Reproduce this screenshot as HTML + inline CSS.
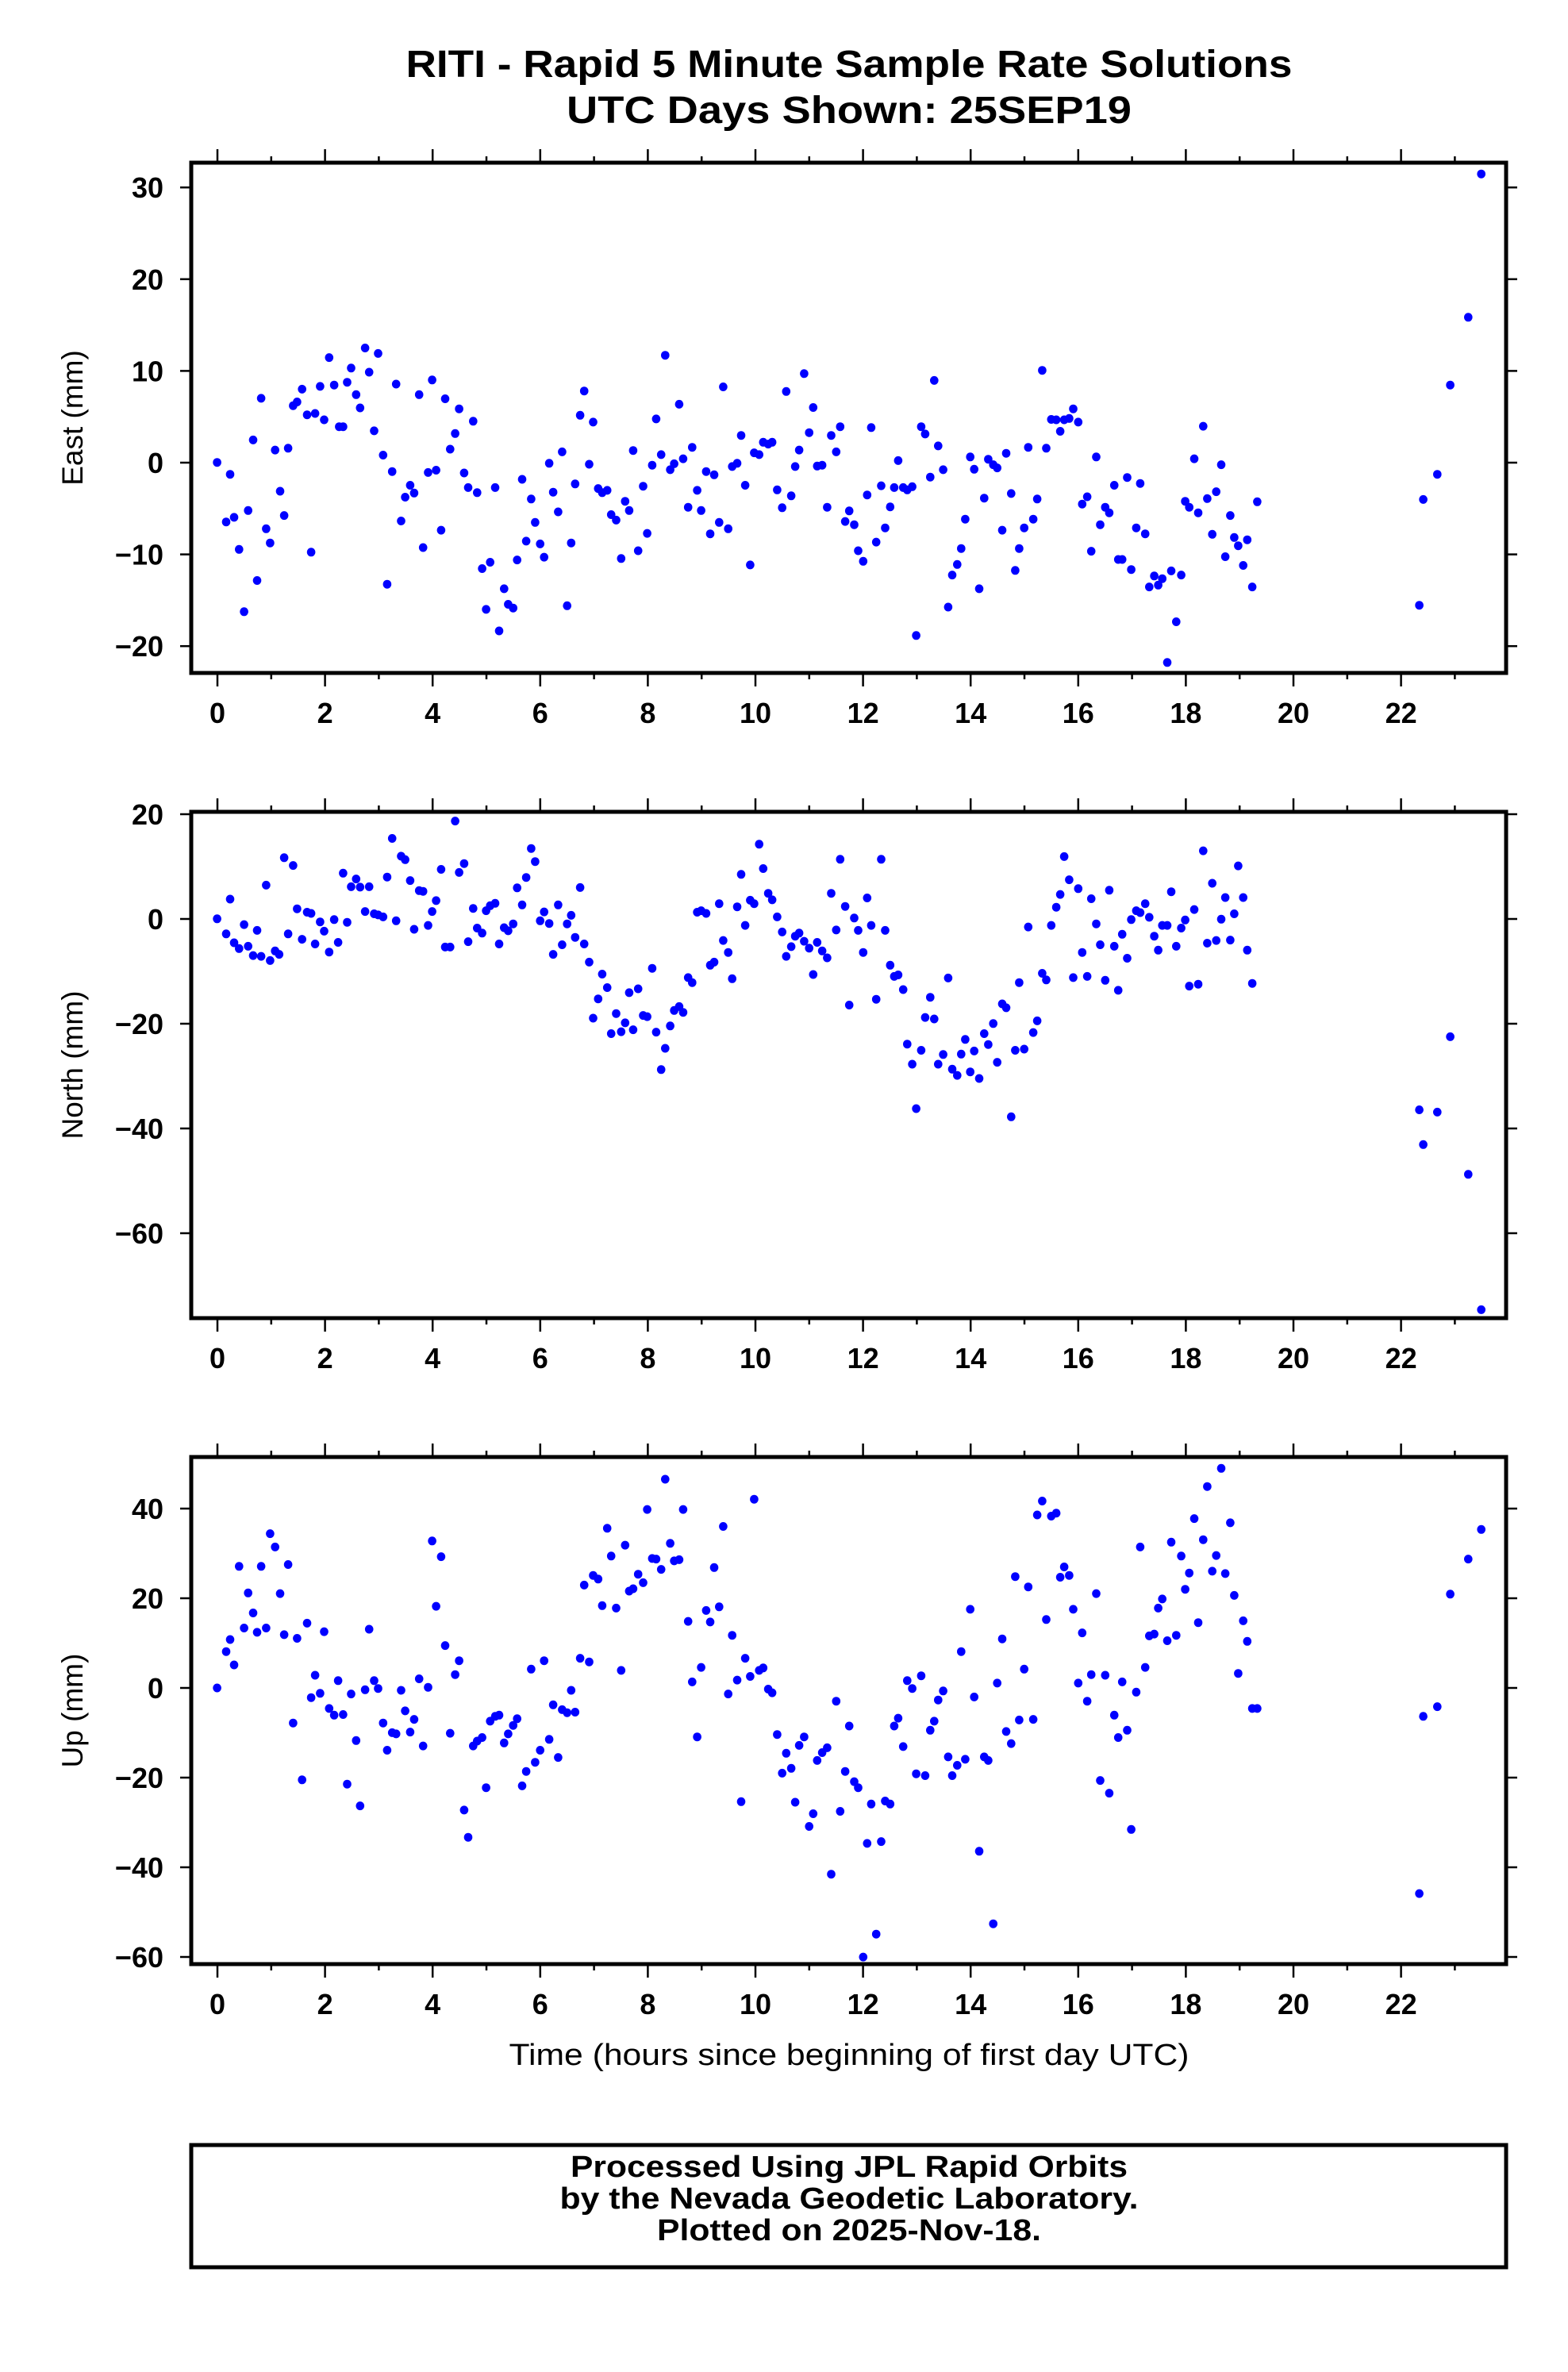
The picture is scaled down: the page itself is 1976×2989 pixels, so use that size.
<!DOCTYPE html>
<html><head><meta charset="utf-8"><style>html,body{margin:0;padding:0;background:#fff}svg{display:block}</style></head>
<body>
<svg id="s" xmlns="http://www.w3.org/2000/svg" width="1976" height="2989" viewBox="0 0 1976 2989" font-family="Liberation Sans, sans-serif">
<rect width="1976" height="2989" fill="#fff"/>
<text x="1070" y="97" font-size="48" font-weight="bold" text-anchor="middle" textLength="1117" lengthAdjust="spacingAndGlyphs">RITI - Rapid 5 Minute Sample Rate Solutions</text>
<text x="1070" y="155" font-size="48" font-weight="bold" text-anchor="middle" textLength="712" lengthAdjust="spacingAndGlyphs">UTC Days Shown:  25SEP19</text>
<text x="1070" y="2602" font-size="38" text-anchor="middle" textLength="857" lengthAdjust="spacingAndGlyphs">Time (hours since beginning of first day UTC)</text>
<rect x="241" y="2703" width="1657" height="154" fill="none" stroke="#000" stroke-width="5"/>
<text x="1070" y="2743" font-size="38" font-weight="bold" text-anchor="middle" textLength="702" lengthAdjust="spacingAndGlyphs">Processed Using JPL Rapid Orbits</text>
<text x="1070" y="2783" font-size="38" font-weight="bold" text-anchor="middle" textLength="729" lengthAdjust="spacingAndGlyphs">by the Nevada Geodetic Laboratory.</text>
<text x="1070" y="2823" font-size="38" font-weight="bold" text-anchor="middle" textLength="484" lengthAdjust="spacingAndGlyphs">Plotted on 2025-Nov-18.</text>
<g id="g"></g>
</svg>
<script>
var g=document.getElementById("g"),h="";
function X(hr){return 274+67.8*hr;}
function panel(top,bot,vals,yf,label){
  var L=241,R=1898;
  for(var i=0;i<=23;i++){var x=X(i),len=(i%2==0)?17:8;
    h+='<line x1="'+x+'" y1="'+top+'" x2="'+x+'" y2="'+(top-len)+'" stroke="#000" stroke-width="2.5"/>';
    h+='<line x1="'+x+'" y1="'+bot+'" x2="'+x+'" y2="'+(bot+len)+'" stroke="#000" stroke-width="2.5"/>';
    if(i%2==0&&i<=22)h+='<text x="'+x+'" y="'+(bot+63)+'" font-size="36" font-weight="bold" text-anchor="middle">'+i+'</text>';}
  vals.forEach(function(v){var y=yf(v);
    h+='<line x1="'+(L-14)+'" y1="'+y+'" x2="'+L+'" y2="'+y+'" stroke="#000" stroke-width="2.5"/>';
    h+='<line x1="'+R+'" y1="'+y+'" x2="'+(R+14)+'" y2="'+y+'" stroke="#000" stroke-width="2.5"/>';
    h+='<text x="206" y="'+(y+13)+'" font-size="36" font-weight="bold" text-anchor="end">'+(v<0?'\u2212'+(-v):v)+'</text>';});
  var cy=(top+bot)/2;
  h+='<text transform="translate(104,'+cy+') rotate(-90)" font-size="37" text-anchor="middle">'+label+'</text>';
  h+='<rect x="'+L+'" y="'+top+'" width="'+(R-L)+'" height="'+(bot-top)+'" fill="none" stroke="#000" stroke-width="5"/>';
}
function dots(arr,oy,sy){for(var i=0;i<arr.length;i+=2){var x=274+(arr[i]*1.2667-274)*0.995;h+='<ellipse cx="'+x.toFixed(1)+'" cy="'+(oy+arr[i+1]*sy).toFixed(1)+'" rx="5.3" ry="5.5" fill="#0000ff"/>';}}
panel(205,848,[-20,-10,0,10,20,30],function(v){return 583-v*11.56;},"East (mm)");
panel(1023,1661,[-60,-40,-20,0,20],function(v){return 1158-v*6.6;},"North (mm)");
panel(1836,2475,[-60,-40,-20,0,20,40],function(v){return 2127-v*5.65;},"Up (mm)");
var E=[216,1010,225,1140,229,1036,233,1130,238,1200,243,1336,247,1115,252,961,256,1268,260,870,265,1155,269,1186,274,983,279,1073,283,1126,287,979,292,886,296,878,301,850,306,906,310,1206,314,903,319,844,323,917,328,781,333,841,338,932,342,932,346,835,350,804,355,862,359,891,364,760,368,813,373,941,377,772,382,994,386,1276,391,1030,395,839,400,1138,404,1086,409,1060,413,1077,418,862,422,1196,427,1032,431,830,435,1027,440,1158,444,871,449,981,454,947,458,893,463,1033,467,1065,472,920,476,1076,481,1242,485,1331,489,1228,494,1065,498,1378,503,1286,507,1320,512,1328,516,1223,521,1047,525,1182,530,1090,534,1141,539,1188,543,1217,548,1012,552,1075,557,1118,561,987,566,1323,570,1186,574,1057,579,907,583,854,588,1014,592,922,597,1067,601,1076,606,1071,610,1124,615,1136,620,1220,624,1095,628,1115,632,984,637,1203,642,1062,646,1165,651,1016,655,915,660,993,664,776,669,1026,673,1013,678,883,682,1002,687,1108,691,977,696,1071,700,1115,705,1030,709,1166,713,1037,718,1141,722,845,727,1155,731,1019,736,1012,740,951,744,1060,749,1234,753,989,758,993,762,966,767,970,771,966,776,1070,781,1109,785,855,790,1083,794,1019,798,983,803,816,808,945,812,890,816,1018,821,1016,826,1108,830,951,835,987,839,932,844,1139,848,1116,853,1146,857,1203,862,1226,866,1081,870,934,875,1184,880,1061,884,1153,889,1107,893,1065,897,1006,902,1065,906,1070,911,1063,915,1388,920,932,924,948,929,1042,933,831,937,974,942,1026,947,1326,951,1256,956,1233,960,1198,964,1134,969,998,973,1025,978,1286,983,1088,987,1003,992,1015,996,1022,1001,1158,1005,990,1010,1078,1014,1246,1018,1198,1023,1153,1027,977,1032,1134,1036,1090,1041,809,1045,979,1050,916,1055,917,1059,942,1063,917,1068,914,1072,893,1077,922,1081,1101,1086,1085,1090,1204,1095,998,1099,1146,1104,1108,1108,1120,1113,1060,1117,1222,1121,1222,1126,1043,1130,1244,1135,1153,1139,1056,1144,1166,1148,1282,1153,1258,1157,1278,1161,1264,1166,1447,1170,1247,1175,1358,1180,1256,1184,1095,1188,1108,1193,1002,1197,1120,1202,931,1206,1089,1211,1167,1215,1074,1220,1015,1224,1216,1229,1126,1233,1174,1237,1192,1242,1235,1246,1179,1251,1282,1256,1096,1418,1322,1422,1091,1436,1036,1449,841,1467,693,1480,380];
var N=[216,365,225,404,229,314,233,427,238,442,243,380,247,436,252,460,256,395,260,462,265,278,269,473,274,448,278,457,283,207,287,404,292,227,296,339,301,418,306,348,310,351,314,430,319,373,323,397,328,451,333,367,337,426,342,247,346,374,350,282,355,262,359,283,364,346,368,282,373,352,377,355,382,360,386,257,391,157,395,370,400,203,404,212,409,266,413,392,418,292,422,294,427,382,431,346,435,318,440,237,444,438,449,438,454,112,458,245,463,222,467,424,472,338,476,389,481,402,485,344,489,331,494,325,498,430,503,388,507,396,512,378,516,285,521,329,525,258,530,183,534,217,539,370,543,347,548,377,552,457,557,329,561,432,566,378,570,356,574,413,579,284,583,430,588,477,592,622,597,572,601,508,606,543,610,662,615,610,620,657,624,634,628,556,632,652,637,546,642,615,646,618,651,493,655,658,660,755,664,700,669,642,673,602,678,592,682,607,687,517,691,530,696,348,700,344,705,351,709,485,713,477,718,326,722,421,727,452,731,520,736,334,740,250,744,382,749,317,753,326,758,172,762,235,767,299,771,316,776,360,781,399,785,462,790,437,794,410,798,402,803,423,808,441,812,509,816,426,821,448,826,466,830,299,835,394,839,211,844,333,848,588,853,363,857,395,862,452,866,311,870,382,875,573,880,211,884,395,889,485,893,514,897,510,902,548,906,689,911,741,915,856,920,705,924,620,929,568,933,624,937,741,942,716,947,518,951,754,956,770,960,715,964,677,969,761,973,707,978,778,983,662,987,690,992,636,996,736,1001,585,1005,595,1010,877,1014,705,1018,530,1023,702,1027,386,1032,659,1036,629,1041,506,1045,523,1050,382,1055,335,1059,302,1063,204,1068,264,1072,517,1077,287,1081,452,1086,514,1090,313,1095,378,1099,432,1104,524,1108,291,1113,436,1117,550,1121,405,1126,467,1130,367,1135,344,1139,349,1144,326,1148,361,1153,410,1157,446,1161,382,1166,382,1170,295,1175,436,1180,389,1184,368,1188,539,1193,341,1197,534,1202,189,1206,428,1211,273,1215,421,1220,366,1224,310,1229,420,1233,352,1237,228,1242,310,1246,446,1251,532,1418,859,1422,949,1436,865,1449,670,1467,1026,1480,1376];
var U=[216,429,225,369,229,349,233,391,238,228,243,330,247,272,252,305,256,337,260,228,265,330,269,174,274,196,279,273,283,341,287,225,292,487,296,347,301,581,306,322,310,445,314,408,319,438,323,336,328,463,333,474,337,417,342,473,346,588,350,439,355,516,359,624,364,432,368,332,373,417,377,430,382,487,386,532,391,503,395,505,400,433,404,467,409,502,413,481,418,414,422,525,427,428,431,186,435,294,440,212,444,359,449,504,454,407,458,384,463,631,467,676,472,525,476,517,481,511,485,594,489,484,494,476,498,474,503,520,507,505,512,491,516,480,521,591,525,567,530,398,534,552,539,532,543,384,548,514,552,457,557,544,561,465,566,470,570,433,574,469,579,380,583,259,588,386,592,243,597,249,601,293,606,165,610,211,615,297,620,400,624,193,628,269,632,265,637,241,642,255,646,134,651,215,655,216,660,233,664,84,669,190,673,219,678,217,682,134,687,319,691,419,696,510,700,395,705,301,709,320,713,230,718,295,722,162,727,439,731,342,736,416,740,617,744,380,749,410,753,117,758,400,762,396,767,431,771,437,776,506,781,570,785,537,790,562,794,618,798,524,803,510,808,658,812,637,816,549,821,536,826,528,830,737,835,451,839,633,844,567,848,492,853,584,857,594,862,874,866,686,870,621,875,836,880,683,884,616,889,621,893,492,897,479,902,526,906,417,911,430,915,571,920,409,924,574,929,499,933,484,937,449,942,434,947,543,951,574,956,557,960,369,964,547,969,299,973,444,978,699,983,543,987,549,992,819,996,421,1001,348,1005,501,1010,521,1014,245,1018,482,1023,398,1027,262,1032,481,1036,143,1041,120,1045,316,1050,145,1055,140,1059,246,1063,229,1068,243,1072,299,1077,421,1081,338,1086,451,1090,407,1095,273,1099,582,1104,408,1108,603,1113,474,1117,511,1121,419,1126,499,1130,663,1135,436,1139,196,1144,395,1148,343,1153,340,1157,297,1161,282,1166,351,1170,188,1175,342,1180,211,1184,266,1188,239,1193,149,1197,321,1202,184,1206,96,1211,236,1215,210,1220,66,1224,240,1229,156,1233,276,1237,405,1242,318,1246,352,1251,463,1256,463,1418,769,1422,476,1436,460,1449,274,1467,216,1480,167];
dots(E,0,900/1560);
dots(N,980,760/1560);
dots(U,1800,1189/1560);
g.innerHTML=h;
</script>
</body></html>
